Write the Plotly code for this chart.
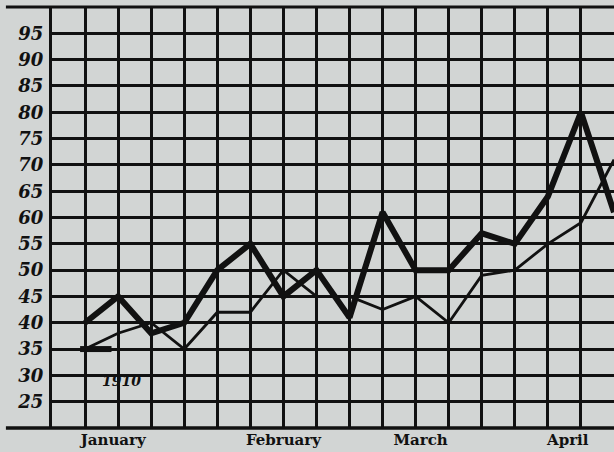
import plotly.graph_objects as go

# ---- data ----
weeks = [1, 2, 3, 4, 5, 6, 7, 8, 9, 10, 11, 12, 13, 14, 15, 16, 17]
series_heavy = [40, 45, 38, 40, 50, 55, 45, 50, 41, 61, 50, 50, 57, 55, 64, 80, 61]
series_1910 = [35, 38, 40, 35, 42, 42, 50, 45, 45, 42.5, 45, 40, 49, 50, 55, 59, 71]
mark_weeks = [0.85, 1.8]
mark_values = [35, 35]

months = ["January", "February", "March", "April"]
month_pos = [1.85, 7.0, 11.15, 15.6]
y_ticks = [25, 30, 35, 40, 45, 50, 55, 60, 65, 70, 75, 80, 85, 90, 95]
year_label = "1910"

bg = "#d2d5d4"
ink = "#111111"

fig = go.Figure()
fig.add_trace(go.Scatter(x=weeks, y=series_1910, mode="lines",
                         line=dict(color=ink, width=2.8), hoverinfo="skip"))
fig.add_trace(go.Scatter(x=mark_weeks, y=mark_values, mode="lines",
                         line=dict(color=ink, width=6), hoverinfo="skip"))
fig.add_trace(go.Scatter(x=weeks, y=series_heavy, mode="lines",
                         line=dict(color=ink, width=6), hoverinfo="skip"))

fig.add_annotation(x=2.1, y=29.0, xref="x", yref="y", text=year_label,
                   showarrow=False,
                   font=dict(family="DejaVu Serif", size=14, color=ink,
                             style="italic", weight="bold"))

# frame lines extending left like the reference
fig.add_shape(type="line", xref="paper", yref="paper", x0=-0.082, x1=1, y0=1, y1=1,
              line=dict(color=ink, width=3), layer="above")
fig.add_shape(type="line", xref="paper", yref="paper", x0=-0.082, x1=1, y0=0, y1=0,
              line=dict(color=ink, width=3.5), layer="above")

fig.update_layout(
    width=614, height=452,
    margin=dict(l=52, r=0, t=7, b=24),
    paper_bgcolor=bg, plot_bgcolor=bg,
    showlegend=False,
    xaxis=dict(range=[0, 17], tickvals=month_pos, ticktext=months,
               showgrid=False, zeroline=False, ticks="",
               ticklabelstandoff=1,
               tickfont=dict(family="DejaVu Serif", size=15, color=ink, weight="bold"),
               minor=dict(tick0=0, dtick=1, showgrid=True, gridcolor=ink, gridwidth=2.6, ticks=""),
               showline=False, fixedrange=True),
    yaxis=dict(range=[20, 100], tickvals=y_ticks,
               showgrid=True, gridcolor=ink, gridwidth=2.6,
               zeroline=False, ticks="", ticklabelstandoff=2,
               tickfont=dict(family="DejaVu Serif", size=18, color=ink,
                             style="italic", weight="bold"),
               minor=dict(tick0=0, dtick=5, showgrid=True, gridcolor=ink, gridwidth=2.6, ticks=""),
               showline=True, linecolor=ink, linewidth=3, fixedrange=True),
)

fig.write_html(
    "out.html",
    config={"displayModeBar": False},
    post_script="document.body.style.margin='0';document.body.style.padding='0';"
                "document.body.style.background='" + bg + "';"
                "document.body.style.overflow='hidden';",
)
